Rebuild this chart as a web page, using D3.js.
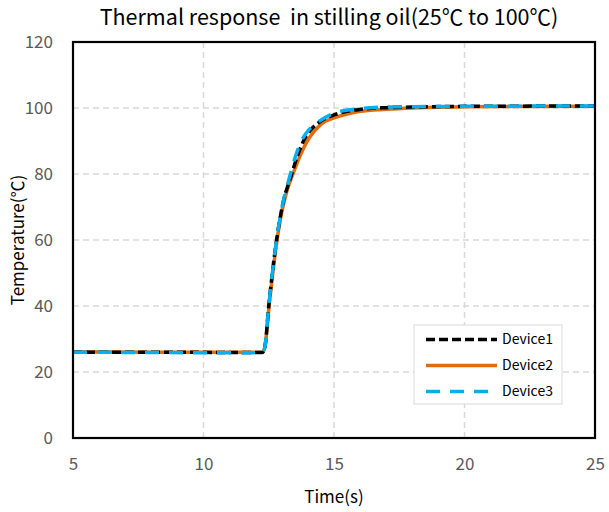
<!DOCTYPE html>
<html><head><meta charset="utf-8">
<script src="https://cdn.jsdelivr.net/npm/d3@7"></script>
<style>body{margin:0;background:#fff}svg{display:block}text{white-space:pre}</style>
</head><body>
<svg id="chart" width="609" height="512"></svg>
<script>
const seriesNames = ["Device1", "Device2", "Device3"];
const device1 = [[5,26],[8,26],[12.25,25.9],[12.35,27.5],[12.5,40],[12.8,60],[13.0,69.5],[13.38,80],[13.6,85.5],[13.85,90.3],[14.1,93.3],[14.4,95.5],[15,97.9],[15.5,99],[16,99.6],[17,100.1],[18,100.3],[20,100.5],[25,100.6]];
const device2 = [[5,26.1],[8,26],[12.25,26],[12.35,27.5],[12.5,39],[12.8,59],[13.0,68.5],[13.2,75],[13.45,80.5],[13.7,85.5],[14.0,90.3],[14.25,93],[14.54,95.3],[15,97],[15.5,98.2],[16,99],[17,99.6],[18,100],[20,100.4],[25,100.5]];
const device3 = [[5,26],[8,25.9],[12.25,25.8],[12.35,27.5],[12.5,40],[12.8,60],[13.0,69.5],[13.33,80],[13.55,86],[13.77,90.3],[14.05,93.5],[14.35,95.5],[15,98.4],[16,99.8],[17,100.3],[20,100.5],[25,100.6]];
const xTicks = [5, 10, 15, 20, 25];
const yTicks = [0, 20, 40, 60, 80, 100, 120];
const titleText = "Thermal response  in stilling oil(25℃ to 100℃)";
const xTitle = "Time(s)";
const yTitle = "Temperature(℃)";

const font = "'Noto Sans CJK SC', 'Noto Sans', sans-serif";
const svg = d3.select("#chart");
const L = 73, R = 595, T = 42, B = 438;
const x = d3.scaleLinear().domain([5, 25]).range([L, R]);
const y = d3.scaleLinear().domain([0, 120]).range([B, T]);

// grid
const g = svg.append("g");
g.selectAll(".vg").data(xTicks.slice(1, -1)).join("line")
  .attr("x1", d => x(d)).attr("x2", d => x(d)).attr("y1", T).attr("y2", B)
  .attr("stroke", "#d9d9d9").attr("stroke-width", 1.5).attr("stroke-dasharray", "6,4");
g.selectAll(".hg").data(yTicks.slice(1, -1)).join("line")
  .attr("x1", L).attr("x2", R).attr("y1", d => y(d)).attr("y2", d => y(d))
  .attr("stroke", "#d9d9d9").attr("stroke-width", 1.5).attr("stroke-dasharray", "6,4");

// axes (labels only)
const xAxis = svg.append("g").attr("transform", `translate(0,${B})`)
  .call(d3.axisBottom(x).tickValues(xTicks).tickSize(0).tickPadding(20));
const yAxis = svg.append("g").attr("transform", `translate(${L},0)`)
  .call(d3.axisLeft(y).tickValues(yTicks).tickSize(0).tickPadding(20));
[xAxis, yAxis].forEach(a => {
  a.select(".domain").remove();
  a.selectAll("text").attr("font-family", font).attr("font-size", 17).attr("fill", "#595959");
});

// lines
const line = d3.line().x(d => x(d[0])).y(d => y(d[1])).curve(d3.curveMonotoneX);
const styles = [
  {data: device2, color: "#E46C0A", dash: null, w: 3.5},
  {data: device1, color: "#000000", dash: "9,4", w: 3.5},
  {data: device3, color: "#00B0F0", dash: "14,10", w: 3.5}
];
styles.forEach(s => {
  svg.append("path").attr("d", line(s.data)).attr("fill", "none")
    .attr("stroke", s.color).attr("stroke-width", s.w)
    .attr("stroke-dasharray", s.dash);
});

// frame
svg.append("rect").attr("x", L).attr("y", T).attr("width", R - L).attr("height", B - T)
  .attr("fill", "none").attr("stroke", "#000").attr("stroke-width", 2.2);

// legend
const leg = svg.append("g");
leg.append("rect").attr("x", 414).attr("y", 325).attr("width", 148).attr("height", 79)
  .attr("fill", "#fff").attr("stroke", "#d9d9d9").attr("stroke-width", 1);
const legItems = [
  {name: seriesNames[0], color: "#000", dash: "9,4"},
  {name: seriesNames[1], color: "#E46C0A", dash: null},
  {name: seriesNames[2], color: "#00B0F0", dash: "14,10"}
];
legItems.forEach((it, i) => {
  const yy = 339.5 + i * 26;
  leg.append("line").attr("x1", 426).attr("x2", 497).attr("y1", yy).attr("y2", yy)
    .attr("stroke", it.color).attr("stroke-width", 3.5).attr("stroke-dasharray", it.dash);
  leg.append("text").attr("x", 502).attr("y", yy).attr("dy", "0.35em")
    .attr("font-family", font).attr("font-size", 14).attr("fill", "#000").text(it.name);
});

// titles
svg.append("text").attr("x", 329).attr("y", 25).attr("text-anchor", "middle")
  .attr("font-family", font).attr("font-size", 21.5).attr("fill", "#000").text(titleText);
svg.append("text").attr("x", 334).attr("y", 503).attr("text-anchor", "middle")
  .attr("font-family", font).attr("font-size", 17).attr("fill", "#000").text(xTitle);
svg.append("text").attr("transform", "translate(24,240) rotate(-90)").attr("text-anchor", "middle")
  .attr("font-family", font).attr("font-size", 17).attr("fill", "#000").text(yTitle);
</script>
</body></html>
